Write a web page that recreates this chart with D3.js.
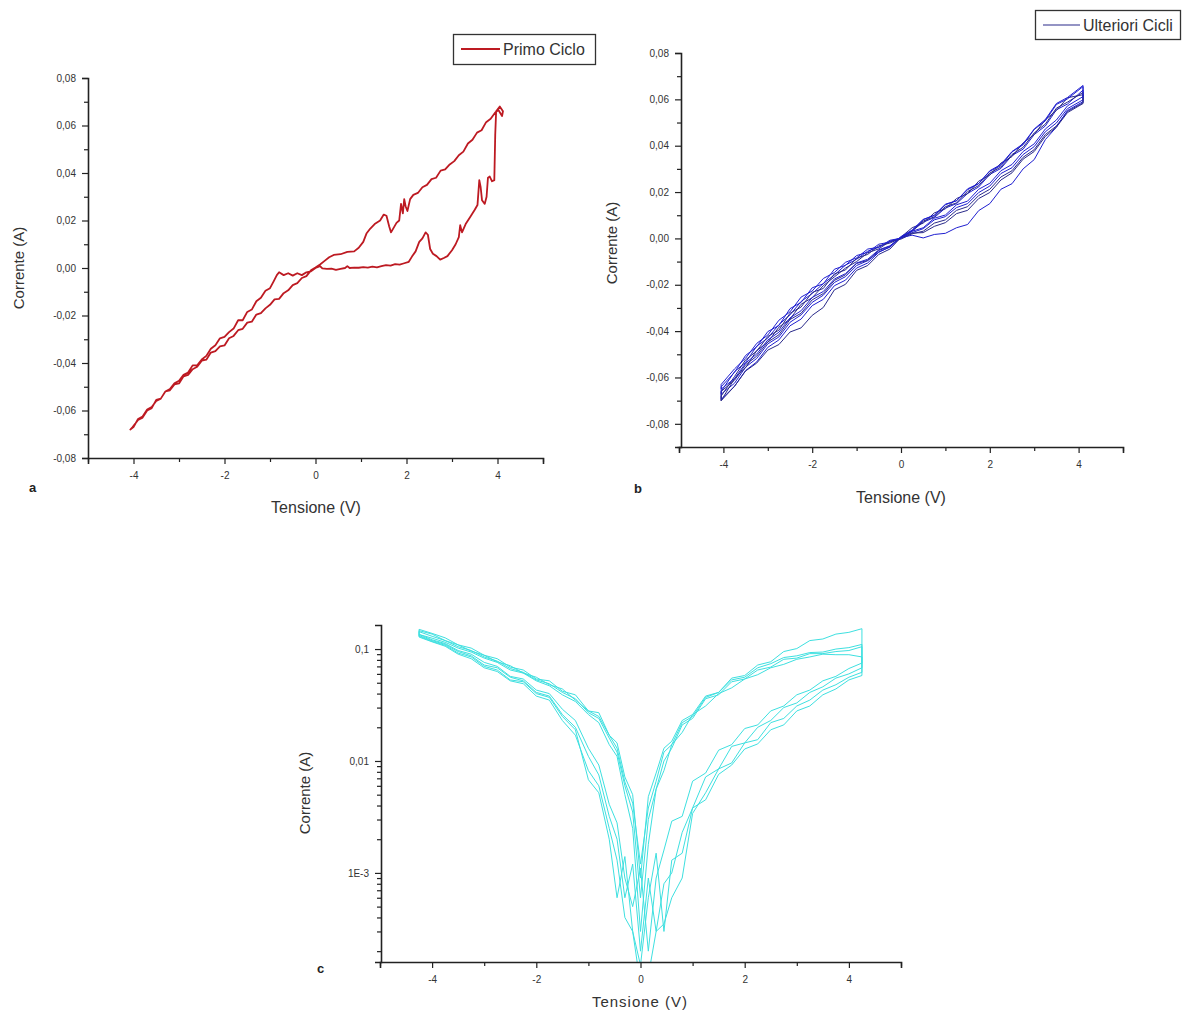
<!DOCTYPE html>
<html>
<head>
<meta charset="utf-8">
<script src="https://cdn.jsdelivr.net/npm/d3@7"></script>
<style>
  body { margin: 0; background: #fff; }
  svg { display: block; }
  .tick text { font-family: "Liberation Sans", Arial, sans-serif; font-size: 10px; fill: #333; }
  .axis path, .axis line { stroke: #222; }
  .title { font-family: "Liberation Sans", Arial, sans-serif; font-size: 15px; fill: #333; }
  .narrow { font-family: "Liberation Sans Narrow", "Arial Narrow", "Liberation Sans", sans-serif; font-size: 16px; fill: #333; }
  .panel { font-family: "Liberation Sans", Arial, sans-serif; font-size: 13px; font-weight: bold; fill: #222; }
</style>
</head>
<body>
<div id="chart"></div>
<script>
// ---- data: panel a (primo ciclo), voltage/current pairs in sweep order
const tensioneA = [
  0.00, 0.10, 0.15, 0.25, 0.35, 0.45, 0.55, 0.65, 0.70, 0.75, 0.85, 0.95, 1.05, 1.15, 1.25, 1.35, 1.45, 1.55, 1.65, 1.75,
  1.85, 1.95, 2.05, 2.12, 2.20, 2.28, 2.35, 2.42, 2.47, 2.52, 2.58, 2.66, 2.74, 2.82, 2.90, 3.00, 3.08, 3.15, 3.18, 3.22,
  3.30, 3.40, 3.50, 3.56, 3.60, 3.63, 3.66, 3.72, 3.76, 3.79, 3.83, 3.88, 3.93, 3.95, 3.97, 4.05, 4.12, 4.10, 4.02,
  3.95, 3.85, 3.75, 3.65, 3.55, 3.45, 3.35, 3.25, 3.15, 3.05, 2.95, 2.85, 2.75, 2.65, 2.55, 2.45, 2.35, 2.25, 2.15, 2.08,
  2.02, 1.98, 1.95, 1.92, 1.88, 1.84, 1.78, 1.72, 1.66, 1.62, 1.56, 1.50, 1.42, 1.30, 1.20, 1.12, 1.05, 0.95, 0.85, 0.70,
  0.55, 0.40, 0.30, 0.20, 0.10, 0.00,
  -0.10, -0.20, -0.30, -0.40, -0.50, -0.60, -0.70, -0.80, -0.90, -1.00, -1.10, -1.20, -1.30, -1.40, -1.50, -1.60, -1.70,
  -1.80, -1.90, -2.00, -2.10, -2.20, -2.30, -2.40, -2.50, -2.60, -2.70, -2.80, -2.90, -3.00, -3.10, -3.20, -3.30, -3.40,
  -3.50, -3.60, -3.70, -3.80, -3.90, -4.00, -4.07,
  -4.02, -3.90, -3.80, -3.70, -3.60, -3.50, -3.40, -3.30, -3.20, -3.10, -3.00, -2.90, -2.80, -2.70, -2.60, -2.50, -2.40,
  -2.30, -2.20, -2.10, -2.00, -1.90, -1.80, -1.70, -1.60, -1.50, -1.40, -1.30, -1.20, -1.10, -1.00, -0.92, -0.85, -0.80,
  -0.70, -0.60, -0.50, -0.40, -0.30, -0.20, -0.10, 0.00
];
const correnteA = [
  0.0000, 0.0008, -0.0002, -0.0004, -0.0003, -0.0008, -0.0004, 0.0000, 0.0008, 0.0000, 0.0002, 0.0001, 0.0004, 0.0002, 0.0006, 0.0003, 0.0008, 0.0012, 0.0010, 0.0016,
  0.0014, 0.0020, 0.0026, 0.0048, 0.0070, 0.0110, 0.0125, 0.0150, 0.0140, 0.0080, 0.0060, 0.0050, 0.0035, 0.0042, 0.0050, 0.0075, 0.0100, 0.0130, 0.0180, 0.0150,
  0.0185, 0.0215, 0.0245, 0.0265, 0.0370, 0.0340, 0.0285, 0.0270, 0.0300, 0.0380, 0.0385, 0.0365, 0.0370, 0.0560, 0.0660, 0.0680, 0.0660, 0.0640, 0.0665,
  0.0655, 0.0628, 0.0614, 0.0580, 0.0570, 0.0540, 0.0524, 0.0490, 0.0475, 0.0450, 0.0436, 0.0415, 0.0410, 0.0380, 0.0374, 0.0350, 0.0340, 0.0316, 0.0308, 0.0290,
  0.0240, 0.0260, 0.0290, 0.0230, 0.0270, 0.0200, 0.0190, 0.0170, 0.0150, 0.0175, 0.0220, 0.0225, 0.0200, 0.0185, 0.0165, 0.0145, 0.0110, 0.0085, 0.0070, 0.0068,
  0.0058, 0.0055, 0.0045, 0.0030, 0.0015, 0.0002,
  -0.0010, -0.0034, -0.0042, -0.0064, -0.0072, -0.0094, -0.0106, -0.0130, -0.0132, -0.0155, -0.0170, -0.0190, -0.0196, -0.0226, -0.0230, -0.0256, -0.0262,
  -0.0286, -0.0296, -0.0326, -0.0330, -0.0350, -0.0356, -0.0386, -0.0390, -0.0416, -0.0426, -0.0450, -0.0456, -0.0486, -0.0490, -0.0515, -0.0520, -0.0550,
  -0.0560, -0.0585, -0.0596, -0.0625, -0.0636, -0.0670, -0.0680,
  -0.0670, -0.0640, -0.0630, -0.0600, -0.0590, -0.0555, -0.0550, -0.0520, -0.0510, -0.0485, -0.0475, -0.0450, -0.0440, -0.0410, -0.0410, -0.0385, -0.0370,
  -0.0340, -0.0325, -0.0296, -0.0290, -0.0270, -0.0255, -0.0220, -0.0220, -0.0185, -0.0175, -0.0140, -0.0125, -0.0096, -0.0085, -0.0056, -0.0030, -0.0018,
  -0.0030, -0.0022, -0.0032, -0.0022, -0.0030, -0.0018, -0.0014, 0.0000
];

// ---- data: panel b (ulteriori cicli), forward sweep voltages, each cycle = forward then reverse
const sweepB = [-4.05, -3.75, -3.5, -3.25, -3, -2.75, -2.5, -2.25, -2, -1.75, -1.5, -1.25, -1, -0.75, -0.5, -0.25,
  0, 0.25, 0.5, 0.75, 1, 1.25, 1.5, 1.75, 2, 2.25, 2.5, 2.75, 3, 3.25, 3.5, 3.75, 4.1];
const cicloB1 = [
  -0.066, -0.0575, -0.0535, -0.0465, -0.0430, -0.0372, -0.0330, -0.0272, -0.0238, -0.0195, -0.0158, -0.0115, -0.0090, -0.0055, -0.0038, -0.0012, 0.0002,
  0.0025, 0.0042, 0.0080, 0.0094, 0.0133, 0.0150, 0.0198, 0.0226, 0.0280, 0.0305, 0.0362, 0.0396, 0.0460, 0.0498, 0.0560, 0.0598,
  0.0640, 0.0580, 0.0555, 0.0485, 0.0448, 0.0385, 0.0358, 0.0302, 0.0276, 0.0222, 0.0194, 0.0150, 0.0131, 0.0090, 0.0070, 0.0032, 0.0004,
  -0.0038, -0.0058, -0.0096, -0.0117, -0.0165, -0.0190, -0.0245, -0.0276, -0.0330, -0.0362, -0.0425, -0.0455, -0.0518, -0.0555, -0.0625, -0.0672];
const cicloB2 = [
  -0.070, -0.0605, -0.0558, -0.0484, -0.0448, -0.0383, -0.0348, -0.0284, -0.0256, -0.0204, -0.0166, -0.0128, -0.0100, -0.0062, -0.0045, -0.0013, -0.0003,
  0.0020, 0.0031, 0.0066, 0.0080, 0.0121, 0.0137, 0.0185, 0.0212, 0.0265, 0.0292, 0.0350, 0.0383, 0.0448, 0.0485, 0.0548, 0.0585,
  0.0620, 0.0607, 0.0552, 0.0512, 0.0448, 0.0412, 0.0353, 0.0325, 0.0273, 0.0247, 0.0193, 0.0172, 0.0128, 0.0110, 0.0066, 0.0046, 0.0006,
  -0.0034, -0.0052, -0.0095, -0.0108, -0.0157, -0.0181, -0.0238, -0.0265, -0.0323, -0.0350, -0.0416, -0.0447, -0.0508, -0.0545, -0.0612, -0.0660];
const cicloB3 = [
  -0.064, -0.0578, -0.0505, -0.0468, -0.0402, -0.0376, -0.0303, -0.0276, -0.0213, -0.0196, -0.0133, -0.0116, -0.0074, -0.0060, -0.0025, -0.0016, 0.0003,
  0.0014, 0.0002, 0.0017, 0.0022, 0.0046, 0.0060, 0.0120, 0.0150, 0.0212, 0.0236, 0.0300, 0.0340, 0.0426, 0.0480, 0.0552, 0.0590,
  0.0655, 0.0602, 0.0578, 0.0507, 0.0470, 0.0404, 0.0373, 0.0314, 0.0290, 0.0237, 0.0214, 0.0162, 0.0148, 0.0100, 0.0082, 0.0036, 0.0008,
  -0.0036, -0.0060, -0.0106, -0.0128, -0.0180, -0.0204, -0.0263, -0.0290, -0.0348, -0.0377, -0.0438, -0.0470, -0.0533, -0.0570, -0.0638, -0.0695];
const cicloB4 = [
  -0.068, -0.0596, -0.0524, -0.0486, -0.0423, -0.0396, -0.0323, -0.0296, -0.0233, -0.0216, -0.0153, -0.0136, -0.0086, -0.0069, -0.0032, -0.0020, 0.0001,
  0.0023, 0.0025, 0.0052, 0.0068, 0.0107, 0.0121, 0.0172, 0.0198, 0.0252, 0.0283, 0.0342, 0.0375, 0.0440, 0.0480, 0.0543, 0.0582,
  0.0630, 0.0588, 0.0562, 0.0493, 0.0455, 0.0393, 0.0362, 0.0308, 0.0282, 0.0228, 0.0202, 0.0153, 0.0137, 0.0093, 0.0075, 0.0031, 0.0004,
  -0.0046, -0.0069, -0.0117, -0.0138, -0.0198, -0.0222, -0.0298, -0.0332, -0.0386, -0.0404, -0.0458, -0.0482, -0.0538, -0.0572, -0.0638, -0.0700];
const cicloB5 = [
  -0.063, -0.0563, -0.0517, -0.0453, -0.0417, -0.0353, -0.0317, -0.0253, -0.0227, -0.0173, -0.0147, -0.0103, -0.0084, -0.0046, -0.0038, -0.0008, 0.0001,
  0.0031, 0.0046, 0.0087, 0.0101, 0.0145, 0.0161, 0.0212, 0.0238, 0.0292, 0.0319, 0.0375, 0.0408, 0.0472, 0.0511, 0.0572, 0.0612,
  0.0660, 0.0608, 0.0582, 0.0513, 0.0472, 0.0408, 0.0375, 0.0319, 0.0292, 0.0236, 0.0210, 0.0163, 0.0145, 0.0099, 0.0081, 0.0033, 0.0006,
  -0.0032, -0.0049, -0.0090, -0.0106, -0.0152, -0.0175, -0.0229, -0.0255, -0.0312, -0.0343, -0.0405, -0.0438, -0.0499, -0.0538, -0.0605, -0.0650];

// ---- data: panel c (|I| on log scale), forward sweep voltages, each cycle = forward then reverse
const sweepC = [-4.25, -4, -3.75, -3.5, -3.25, -3, -2.75, -2.5, -2.25, -2, -1.75, -1.5, -1.25, -1, -0.8, -0.6, -0.45, -0.3, -0.15,
  0, 0.15, 0.3, 0.45, 0.6, 0.8, 1, 1.25, 1.5, 1.75, 2, 2.25, 2.5, 2.75, 3, 3.25, 3.5, 3.75, 4, 4.25];
const cicloC1 = [
  0.128, 0.116, 0.106, 0.090, 0.082, 0.068, 0.063, 0.052, 0.049, 0.038, 0.035, 0.023, 0.017, 0.0082, 0.0060, 0.0025, 0.0013, 0.0004, 0.0003,
  0.0001, 0.00012, 0.00030, 0.00035, 0.0006, 0.0009, 0.0034, 0.0052, 0.0085, 0.0096, 0.0145, 0.0155, 0.022, 0.024, 0.031, 0.035, 0.043, 0.048, 0.056, 0.062,
  0.152, 0.141, 0.136, 0.123, 0.119, 0.101, 0.095, 0.077, 0.072, 0.058, 0.055, 0.041, 0.038, 0.026, 0.023, 0.015, 0.013, 0.0078, 0.0048,
  0.0009, 0.0050, 0.0072, 0.0145, 0.017, 0.027, 0.028, 0.039, 0.042, 0.052, 0.054, 0.065, 0.069, 0.082, 0.088, 0.102, 0.109, 0.126, 0.138, 0.150];
const cicloC2 = [
  0.132, 0.119, 0.110, 0.095, 0.087, 0.072, 0.068, 0.056, 0.052, 0.041, 0.038, 0.026, 0.020, 0.011, 0.0075, 0.0032, 0.0020, 0.0006, 0.0012,
  0.0002, 0.0009, 0.0003, 0.0008, 0.0010, 0.0023, 0.0038, 0.0072, 0.0085, 0.0135, 0.0145, 0.020, 0.023, 0.030, 0.033, 0.041, 0.046, 0.055, 0.060, 0.068,
  0.105, 0.097, 0.095, 0.091, 0.091, 0.083, 0.081, 0.069, 0.065, 0.054, 0.051, 0.039, 0.036, 0.024, 0.021, 0.013, 0.0100, 0.0056, 0.0030,
  0.0006, 0.0035, 0.0060, 0.012, 0.016, 0.024, 0.027, 0.036, 0.041, 0.049, 0.053, 0.062, 0.067, 0.078, 0.085, 0.097, 0.105, 0.119, 0.130, 0.143];
const cicloC3 = [
  0.130, 0.117, 0.108, 0.092, 0.085, 0.070, 0.065, 0.053, 0.051, 0.040, 0.037, 0.025, 0.019, 0.0068, 0.0052, 0.0020, 0.0006, 0.0014, 0.0003,
  0.00015, 0.0006, 0.0015, 0.0003, 0.0013, 0.0015, 0.0038, 0.0045, 0.0076, 0.0092, 0.0128, 0.0142, 0.019, 0.021, 0.028, 0.031, 0.039, 0.044, 0.053, 0.058,
  0.085, 0.089, 0.089, 0.090, 0.085, 0.081, 0.073, 0.068, 0.059, 0.054, 0.045, 0.040, 0.031, 0.026, 0.018, 0.014, 0.0082, 0.0056, 0.0018,
  0.0003, 0.0025, 0.0050, 0.011, 0.014, 0.022, 0.026, 0.034, 0.039, 0.047, 0.052, 0.061, 0.065, 0.076, 0.083, 0.094, 0.102, 0.115, 0.125, 0.135];
const cicloC4 = [
  0.135, 0.121, 0.112, 0.097, 0.090, 0.076, 0.070, 0.057, 0.054, 0.043, 0.040, 0.029, 0.023, 0.013, 0.0092, 0.0041, 0.0028, 0.0009, 0.0005,
  0.0011, 0.0002, 0.0009, 0.0016, 0.0029, 0.0032, 0.0066, 0.0078, 0.0125, 0.0140, 0.0195, 0.021, 0.028, 0.031, 0.039, 0.043, 0.052, 0.057, 0.067, 0.075,
  0.110, 0.103, 0.100, 0.094, 0.093, 0.087, 0.084, 0.074, 0.068, 0.056, 0.053, 0.041, 0.037, 0.025, 0.022, 0.014, 0.012, 0.0066, 0.0038,
  0.0012, 0.0042, 0.0065, 0.013, 0.017, 0.025, 0.028, 0.035, 0.044, 0.048, 0.056, 0.061, 0.071, 0.077, 0.088, 0.096, 0.109, 0.119, 0.136, 0.146];

// ---- tick values / labels
const xMajor = [-4, -2, 0, 2, 4];
const xMinor = [-5, -3, -1, 1, 3, 5];
const yMajorAB = [-0.08, -0.06, -0.04, -0.02, 0, 0.02, 0.04, 0.06, 0.08];
const yMinorAB = [-0.07, -0.05, -0.03, -0.01, 0.01, 0.03, 0.05, 0.07];
const yMajorC = [0.001, 0.01, 0.1];
const yLabelsC = ["1E-3", "0,01", "0,1"];

const width = 1186, height = 1015;

const locale = d3.formatLocale({decimal: ",", thousands: ".", grouping: [3], currency: ["", ""], minus: "-"});
const fmt2 = locale.format(".2f");
const fmtInt = locale.format("d");

const svg = d3.select("#chart")
  .append("svg")
  .attr("width", width)
  .attr("height", height);

// full sweep (forward then reverse) for a cycle array
function fullSweep(v) { return v.concat(v.slice().reverse()); }

function drawAxes(g, x, y, cfg) {
  // x axis
  g.append("g")
    .attr("class", "axis")
    .attr("transform", `translate(0,${cfg.y0})`)
    .call(d3.axisBottom(x).tickValues(xMinor).tickSize(4).tickFormat(""))
    .call(a => a.select(".domain").remove())
    .selectAll("line").attr("stroke-width", 1.2);
  g.append("g")
    .attr("class", "axis")
    .attr("transform", `translate(0,${cfg.y0})`)
    .call(d3.axisBottom(x).tickValues(xMajor).tickSizeOuter(0).tickSize(6).tickPadding(8).tickFormat(fmtInt))
    .call(a => a.select(".domain").attr("stroke-width", 1.6))
    .selectAll("line").attr("stroke-width", 1.2);

  // y axis
  if (cfg.yMinor) {
    g.append("g")
      .attr("class", "axis")
      .attr("transform", `translate(${cfg.x0},0)`)
      .call(d3.axisLeft(y).tickValues(cfg.yMinor).tickSize(4).tickFormat(""))
      .call(a => a.select(".domain").remove())
      .selectAll("line").attr("stroke-width", 1.2);
  }
  g.append("g")
    .attr("class", "axis")
    .attr("transform", `translate(${cfg.x0},0)`)
    .call(d3.axisLeft(y).tickValues(cfg.yMajor).tickSizeOuter(0).tickSize(6).tickPadding(6).tickFormat(cfg.yFormat))
    .call(a => a.select(".domain").attr("stroke-width", 1.6))
    .selectAll("line").attr("stroke-width", 1.2);
}

// ================= panel a =================
{
  const xA = d3.scaleLinear().domain([-5, 5]).range([88, 543]);
  const yA = d3.scaleLinear().domain([-0.08, 0.08]).range([458, 78]);
  const g = svg.append("g");
  drawAxes(g, xA, yA, {x0: 88, y0: 458, yMajor: yMajorAB, yMinor: yMinorAB, yFormat: fmt2});

  const line = d3.line().x(i => xA(tensioneA[i])).y(i => yA(correnteA[i]));
  g.append("path")
    .datum(d3.range(tensioneA.length))
    .attr("d", line)
    .attr("fill", "none")
    .attr("stroke", "#bd1a22")
    .attr("stroke-width", 1.8)
    .attr("stroke-linejoin", "round");

  g.append("text").attr("class", "narrow").attr("text-anchor", "middle")
    .attr("x", 316).attr("y", 513).text("Tensione (V)");
  g.append("text").attr("class", "title").attr("text-anchor", "middle")
    .attr("transform", "translate(24,268) rotate(-90)").text("Corrente (A)");
  g.append("text").attr("class", "panel").attr("x", 29).attr("y", 492).text("a");

  // legend
  g.append("rect").attr("x", 453.5).attr("y", 34.5).attr("width", 142).attr("height", 30)
    .attr("fill", "#fff").attr("stroke", "#333").attr("stroke-width", 1.3);
  g.append("line").attr("x1", 461).attr("x2", 500).attr("y1", 49).attr("y2", 49)
    .attr("stroke", "#bd1a22").attr("stroke-width", 2.2);
  g.append("text").attr("class", "narrow").attr("x", 503).attr("y", 55).text("Primo Ciclo");
}

// ================= panel b =================
{
  const xB = d3.scaleLinear().domain([-5, 5]).range([679, 1123]);
  const yB = d3.scaleLinear().domain([-0.09, 0.08]).range([447, 53]);
  const g = svg.append("g");
  drawAxes(g, xB, yB, {x0: 681, y0: 447, yMajor: yMajorAB, yMinor: yMinorAB.concat([-0.09]), yFormat: fmt2});

  const v = fullSweep(sweepB);
  const cycles = [cicloB1, cicloB2, cicloB3, cicloB4, cicloB5];
  const line = d3.line().x((d, i) => xB(v[i])).y(d => yB(d));
  g.selectAll(".cicloB")
    .data(cycles)
    .join("path")
    .attr("class", "cicloB")
    .attr("d", d => line(d) + "Z")
    .attr("fill", "none")
    .attr("stroke", (d, i) => i % 2 ? "#2a2a8a" : "#1f1fd0")
    .attr("stroke-width", 1);

  g.append("text").attr("class", "narrow").attr("text-anchor", "middle")
    .attr("x", 901).attr("y", 503).text("Tensione (V)");
  g.append("text").attr("class", "title").attr("text-anchor", "middle")
    .attr("transform", "translate(617,243) rotate(-90)").text("Corrente (A)");
  g.append("text").attr("class", "panel").attr("x", 634).attr("y", 493).text("b");

  g.append("rect").attr("x", 1035.5).attr("y", 10.5).attr("width", 145).attr("height", 29)
    .attr("fill", "#fff").attr("stroke", "#333").attr("stroke-width", 1.3);
  g.append("line").attr("x1", 1043).attr("x2", 1080).attr("y1", 25).attr("y2", 25)
    .attr("stroke", "#2a2a8a").attr("stroke-width", 1.2);
  g.append("text").attr("class", "narrow").attr("x", 1083).attr("y", 31).text("Ulteriori Cicli");
}

// ================= panel c =================
{
  const xC = d3.scaleLinear().domain([-5, 5]).range([380, 901]);
  const yC = d3.scaleLog().domain([1.6e-4, 0.164]).range([962, 625]);
  const g = svg.append("g");

  svg.append("clipPath").attr("id", "clipC")
    .append("rect").attr("x", 381).attr("y", 600).attr("width", 530).attr("height", 362);

  const v = fullSweep(sweepC);
  const cycles = [cicloC1, cicloC2, cicloC3, cicloC4];
  const line = d3.line().x((d, i) => xC(v[i])).y(d => yC(d));
  g.append("g").attr("clip-path", "url(#clipC)")
    .selectAll("path")
    .data(cycles)
    .join("path")
    .attr("d", d => line(d) + "Z")
    .attr("fill", "none")
    .attr("stroke", "#3ee0e0")
    .attr("stroke-width", 1);

  const minorC = [];
  [1e-4, 1e-3, 1e-2, 1e-1].forEach(p => d3.range(2, 10).forEach(k => {
    const val = p * k;
    if (val > 1.6e-4 && val < 0.164) minorC.push(val);
  }));
  drawAxes(g, xC, yC, {x0: 381, y0: 962, yMajor: yMajorC, yMinor: minorC,
    yFormat: d => yLabelsC[yMajorC.indexOf(d)]});

  g.append("text").attr("class", "title").attr("text-anchor", "middle")
    .attr("x", 640).attr("y", 1007).attr("letter-spacing", 1).text("Tensione (V)");
  g.append("text").attr("class", "title").attr("text-anchor", "middle")
    .attr("transform", "translate(310,793) rotate(-90)").text("Corrente (A)");
  g.append("text").attr("class", "panel").attr("x", 317).attr("y", 973).text("c");
}
</script>
</body>
</html>
